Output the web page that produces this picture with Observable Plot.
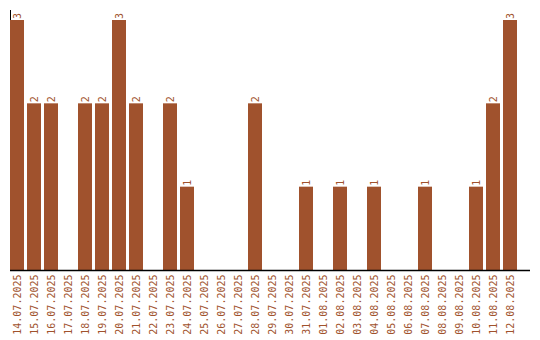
<!DOCTYPE html>
<html>
<head>
<meta charset="utf-8">
<script src="https://cdn.jsdelivr.net/npm/d3@7"></script>
<script src="https://cdn.jsdelivr.net/npm/@observablehq/plot@0.6"></script>
<style>
html, body { margin: 0; padding: 0; background: #fff; }
</style>
</head>
<body>
<div id="chart"></div>
<script>
const dates = [
  "14.07.2025","15.07.2025","16.07.2025","17.07.2025","18.07.2025","19.07.2025",
  "20.07.2025","21.07.2025","22.07.2025","23.07.2025","24.07.2025","25.07.2025",
  "26.07.2025","27.07.2025","28.07.2025","29.07.2025","30.07.2025","31.07.2025",
  "01.08.2025","02.08.2025","03.08.2025","04.08.2025","05.08.2025","06.08.2025",
  "07.08.2025","08.08.2025","09.08.2025","10.08.2025","11.08.2025","12.08.2025"
];
const counts = [3,2,2,0,2,2,3,2,0,2,1,0,0,0,2,0,0,1,0,1,0,1,0,0,1,0,0,1,2,3];

const data = dates.map((d, i) => ({date: d, count: counts[i]}));
const barColor = "#A0522D";

const chart = Plot.plot({
  width: 540,
  height: 340,
  marginTop: 10,
  marginLeft: 10,
  marginRight: 10,
  marginBottom: 70,
  style: {fontFamily: "'DejaVu Sans Mono', monospace", fontSize: "10px", color: barColor, background: "#fff"},
  x: {domain: dates, range: [10, 517], paddingInner: 3/17, paddingOuter: 0, tickRotate: -90, tickSize: 0, tickPadding: 4, label: null},
  y: {domain: [0, 3.12], axis: null},
  marks: [
    Plot.frame({anchor: "left", stroke: "black"}),
    Plot.barY(data, {x: "date", y: "count", fill: barColor}),
    Plot.ruleY([0], {stroke: "black", strokeWidth: 1.5}),
    Plot.text(data.filter(d => d.count > 0), {
      x: "date", y: "count", text: d => String(d.count),
      rotate: -90, textAnchor: "start", dy: -1.5, fill: barColor
    })
  ]
});
document.getElementById("chart").appendChild(chart);
</script>
</body>
</html>
